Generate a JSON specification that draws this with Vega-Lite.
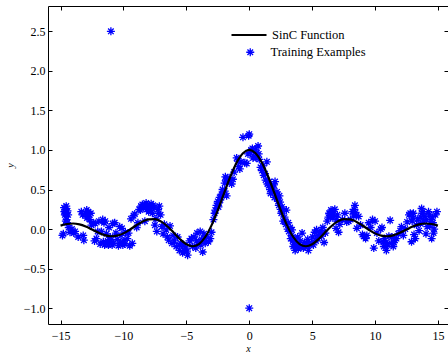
{
  "$schema": "https://vega.github.io/schema/vega-lite/v6.json",
  "width": 400,
  "height": 318,
  "autosize": "none",
  "padding": {"left": 48, "top": 6, "right": 0, "bottom": 31},
  "background": "white",
  "config": {
    "view": {"stroke": null},
    "font": "Liberation Serif",
    "text": {"font": "Liberation Serif"},
    "axis": {
      "grid": false,
      "tickSize": -4,
      "tickColor": "black",
      "tickWidth": 1,
      "domainColor": "black",
      "domainWidth": 1,
      "labelFont": "Liberation Serif",
      "labelFontSize": 12,
      "labelColor": "black",
      "titleFont": "Liberation Serif",
      "titleFontSize": 10,
      "titleFontWeight": "normal",
      "titleFontStyle": "italic",
      "titleColor": "black"
    },
    "legend": {
      "labelFont": "Liberation Serif",
      "labelFontSize": 12.5,
      "labelColor": "black",
      "padding": 0,
      "labelLimit": 300
    }
  },
  "layer": [
    {
      "data": {"values": [
        {"x":-11,"y":2.5},{"x":0,"y":-1},
        {"x":-14.85,"y":-0.08},{"x":-14.78,"y":-0.06},{"x":-14.72,"y":0.27},{"x":-14.7,"y":0.22},{"x":-14.66,"y":0.18},{"x":-14.6,"y":0.25},{"x":-14.55,"y":0.29},{"x":-14.52,"y":0.12},{"x":-14.48,"y":0.08},{"x":-14.4,"y":0.18},{"x":-14.35,"y":0.02},{"x":-14.25,"y":-0.04},{"x":-14.1,"y":0.0},{"x":-13.95,"y":-0.05},{"x":-13.85,"y":-0.03},{"x":-13.6,"y":-0.1},{"x":-13.35,"y":0.22},{"x":-13.25,"y":0.18},{"x":-13.2,"y":-0.08},{"x":-13.15,"y":-0.14},{"x":-13.0,"y":0.2},{"x":-12.92,"y":0.24},{"x":-12.85,"y":0.16},{"x":-12.75,"y":0.19},{"x":-12.68,"y":0.12},{"x":-12.55,"y":0.05},{"x":-12.4,"y":0.08},{"x":-12.3,"y":-0.15},{"x":-12.25,"y":0.07},{"x":-12.15,"y":-0.12},{"x":-12.05,"y":-0.03},
        {"x":-14.62,"y":0.2},{"x":-14.58,"y":0.1},{"x":-14.45,"y":0.23},{"x":-12.9,"y":0.14},{"x":-12.8,"y":0.22},{"x":-12.6,"y":0.2},
        {"x":-11.95,"y":0.1},{"x":-11.85,"y":-0.19},{"x":-11.75,"y":-0.03},{"x":-11.65,"y":0.12},{"x":-11.55,"y":0.08},{"x":-11.5,"y":-0.2},{"x":-11.45,"y":0.1},{"x":-11.35,"y":-0.06},{"x":-11.25,"y":-0.15},{"x":-11.15,"y":0.02},{"x":-11.05,"y":-0.1},{"x":-10.95,"y":-0.17},{"x":-10.85,"y":0.07},{"x":-10.8,"y":-0.18},{"x":-10.7,"y":0.08},{"x":-10.6,"y":-0.05},{"x":-10.5,"y":-0.13},{"x":-10.4,"y":-0.21},{"x":-10.3,"y":0.03},{"x":-10.2,"y":-0.08},{"x":-10.12,"y":0.01},{"x":-10.05,"y":-0.2},{"x":-9.95,"y":-0.15},{"x":-9.85,"y":-0.04},{"x":-9.7,"y":-0.12},{"x":-9.6,"y":-0.05},{"x":-9.5,"y":-0.21},{"x":-9.4,"y":0.13},{"x":-9.3,"y":-0.18},{"x":-9.2,"y":0.17},{"x":-9.1,"y":0.19},
        {"x":-11.6,"y":-0.16},{"x":-11.4,"y":-0.18},{"x":-11.2,"y":-0.2},{"x":-11.0,"y":-0.14},{"x":-10.9,"y":-0.2},{"x":-10.3,"y":-0.18},{"x":-10.1,"y":-0.17},{"x":-9.9,"y":-0.19},
        {"x":-8.95,"y":0.02},{"x":-8.85,"y":0.08},{"x":-8.75,"y":0.25},{"x":-8.6,"y":0.29},{"x":-8.5,"y":0.31},{"x":-8.42,"y":0.27},{"x":-8.3,"y":0.1},{"x":-8.2,"y":0.33},{"x":-8.1,"y":0.3},{"x":-8.0,"y":0.22},{"x":-7.9,"y":0.26},{"x":-7.8,"y":0.32},{"x":-7.7,"y":0.2},{"x":-7.6,"y":0.28},{"x":-7.5,"y":0.05},{"x":-7.42,"y":0.13},{"x":-7.35,"y":-0.03},{"x":-7.25,"y":0.25},{"x":-7.15,"y":0.29},{"x":-7.05,"y":0.18},{"x":-6.95,"y":0.03},{"x":-6.85,"y":-0.06},{"x":-6.75,"y":0.06},{"x":-6.6,"y":-0.01},{"x":-6.5,"y":-0.1},{"x":-6.4,"y":-0.14},{"x":-6.3,"y":0.04},{"x":-6.15,"y":-0.18},{"x":-6.05,"y":-0.08},
        {"x":-8.65,"y":0.24},{"x":-8.35,"y":0.3},{"x":-8.15,"y":0.25},{"x":-7.95,"y":0.3},{"x":-7.85,"y":0.24},{"x":-7.65,"y":0.3},{"x":-7.2,"y":0.2},
        {"x":-5.95,"y":-0.15},{"x":-5.8,"y":-0.22},{"x":-5.7,"y":-0.1},{"x":-5.55,"y":-0.27},{"x":-5.45,"y":-0.18},{"x":-5.3,"y":-0.3},{"x":-5.2,"y":-0.2},{"x":-5.05,"y":-0.24},{"x":-4.9,"y":-0.33},{"x":-4.75,"y":-0.15},{"x":-4.6,"y":-0.12},{"x":-4.5,"y":-0.22},{"x":-4.4,"y":-0.1},{"x":-4.25,"y":-0.24},{"x":-4.15,"y":-0.05},{"x":-4.0,"y":-0.17},{"x":-3.9,"y":-0.03},{"x":-3.8,"y":-0.13},{"x":-3.7,"y":-0.29},{"x":-3.6,"y":-0.06},{"x":-3.5,"y":-0.18},{"x":-3.4,"y":-0.1},{"x":-3.25,"y":-0.16},{"x":-3.1,"y":-0.12},{"x":-3.0,"y":-0.04},
        {"x":-5.5,"y":-0.2},{"x":-5.15,"y":-0.27},{"x":-4.95,"y":-0.28},{"x":-4.2,"y":-0.15},{"x":-3.85,"y":-0.2},{"x":-3.55,"y":-0.12},
        {"x":-2.85,"y":0.12},{"x":-2.75,"y":0.2},{"x":-2.7,"y":0.24},{"x":-2.6,"y":0.3},{"x":-2.5,"y":0.35},{"x":-2.45,"y":0.28},{"x":-2.35,"y":0.4},{"x":-2.3,"y":0.37},{"x":-2.2,"y":0.44},{"x":-2.12,"y":0.5},{"x":-2.05,"y":0.46},{"x":-1.95,"y":0.48},{"x":-1.9,"y":0.66},{"x":-1.8,"y":0.42},{"x":-1.7,"y":0.6},{"x":-1.55,"y":0.61},{"x":-1.4,"y":0.57},{"x":-1.3,"y":0.63},{"x":-1.0,"y":0.9},{"x":-0.85,"y":0.79},{"x":-0.75,"y":0.76},{"x":-0.5,"y":1.16},{"x":-0.35,"y":0.84},{"x":-0.2,"y":0.83},{"x":-0.1,"y":0.95},
        {"x":-2.4,"y":0.33},{"x":-2.25,"y":0.4},{"x":-1.95,"y":0.58},{"x":-1.85,"y":0.62},{"x":-1.6,"y":0.65},{"x":-1.2,"y":0.72},{"x":-0.9,"y":0.86},{"x":-0.65,"y":0.85},
        {"x":0.0,"y":1.2},{"x":-0.05,"y":1.18},{"x":0.1,"y":0.97},{"x":0.25,"y":1.02},{"x":0.35,"y":0.92},{"x":0.5,"y":1.01},{"x":0.6,"y":0.96},{"x":0.7,"y":1.05},{"x":0.8,"y":0.88},{"x":0.9,"y":0.78},{"x":1.0,"y":0.74},{"x":1.15,"y":0.68},{"x":1.25,"y":0.7},{"x":1.4,"y":0.85},{"x":1.45,"y":0.57},{"x":1.55,"y":0.55},{"x":1.65,"y":0.5},{"x":1.75,"y":0.54},{"x":1.85,"y":0.48},{"x":1.95,"y":0.56},{"x":2.05,"y":0.6},{"x":2.1,"y":0.43},{"x":2.2,"y":0.47},{"x":2.25,"y":0.38},{"x":2.35,"y":0.3},{"x":2.4,"y":0.42},{"x":2.45,"y":0.34},{"x":2.5,"y":0.25},{"x":2.55,"y":0.2},{"x":2.65,"y":0.22},{"x":2.7,"y":0.1},{"x":2.8,"y":0.15},{"x":2.9,"y":0.06},{"x":2.95,"y":0.24},
        {"x":0.15,"y":1.0},{"x":0.3,"y":0.9},{"x":0.55,"y":0.9},{"x":0.75,"y":0.95},{"x":1.1,"y":0.8},{"x":1.3,"y":0.62},{"x":1.6,"y":0.6},{"x":1.7,"y":0.45},{"x":1.9,"y":0.52},{"x":2.0,"y":0.4},{"x":2.3,"y":0.35},{"x":2.6,"y":0.28},{"x":2.85,"y":0.1},
        {"x":3.05,"y":0.0},{"x":3.15,"y":-0.03},{"x":3.25,"y":0.02},{"x":3.35,"y":-0.08},{"x":3.4,"y":-0.01},{"x":3.5,"y":-0.22},{"x":3.55,"y":-0.12},{"x":3.6,"y":-0.16},{"x":3.65,"y":-0.27},{"x":3.75,"y":-0.19},{"x":3.85,"y":-0.1},{"x":3.95,"y":-0.2},{"x":4.05,"y":-0.15},{"x":4.2,"y":-0.05},{"x":4.3,"y":-0.24},{"x":4.45,"y":-0.22},{"x":4.55,"y":-0.18},{"x":4.65,"y":-0.13},{"x":4.8,"y":-0.2},{"x":4.95,"y":-0.17},{"x":5.05,"y":-0.1},{"x":5.2,"y":-0.04},{"x":5.35,"y":-0.01},{"x":5.45,"y":-0.12},{"x":5.6,"y":-0.06},{"x":5.75,"y":-0.09},{"x":5.85,"y":0.02},{"x":5.95,"y":-0.17},{"x":6.05,"y":-0.05},
        {"x":3.1,"y":0.08},{"x":3.3,"y":-0.12},{"x":3.45,"y":-0.15},{"x":3.7,"y":-0.22},{"x":3.9,"y":-0.25},{"x":4.1,"y":-0.23},{"x":4.4,"y":-0.17},{"x":4.7,"y":-0.27},{"x":5.1,"y":-0.2},{"x":5.3,"y":-0.15},{"x":5.5,"y":-0.08},{"x":5.7,"y":-0.02},
        {"x":6.2,"y":0.1},{"x":6.35,"y":0.2},{"x":6.45,"y":0.17},{"x":6.55,"y":0.22},{"x":6.65,"y":0.14},{"x":6.8,"y":0.25},{"x":6.9,"y":0.01},{"x":7.0,"y":0.18},{"x":7.1,"y":-0.04},{"x":7.2,"y":0.06},{"x":7.4,"y":0.12},{"x":7.6,"y":0.2},{"x":7.75,"y":0.09},{"x":7.9,"y":0.1},{"x":8.05,"y":0.12},{"x":8.2,"y":0.22},{"x":8.35,"y":0.25},{"x":8.45,"y":0.21},{"x":8.55,"y":0.01},{"x":8.7,"y":0.16},{"x":8.85,"y":0.05},{"x":9.0,"y":-0.07},{"x":9.1,"y":-0.09},
        {"x":6.3,"y":0.15},{"x":6.5,"y":0.24},{"x":6.7,"y":0.19},{"x":6.95,"y":0.12},{"x":8.3,"y":0.18},{"x":8.5,"y":0.17},{"x":8.4,"y":0.3},
        {"x":9.25,"y":-0.12},{"x":9.35,"y":-0.08},{"x":9.5,"y":0.08},{"x":9.65,"y":0.02},{"x":9.8,"y":0.12},{"x":9.9,"y":-0.24},{"x":10.0,"y":0.1},{"x":10.15,"y":-0.05},{"x":10.3,"y":-0.15},{"x":10.45,"y":0.0},{"x":10.55,"y":0.02},{"x":10.65,"y":-0.16},{"x":10.75,"y":-0.12},{"x":10.9,"y":-0.27},{"x":11.0,"y":-0.2},{"x":11.1,"y":-0.09},{"x":11.2,"y":0.11},{"x":11.3,"y":-0.18},{"x":11.45,"y":-0.22},{"x":11.55,"y":-0.14},{"x":11.7,"y":-0.12},{"x":11.85,"y":-0.06},{"x":12.0,"y":-0.02},
        {"x":10.7,"y":-0.22},{"x":10.85,"y":-0.17},{"x":11.35,"y":-0.1},{"x":11.5,"y":-0.17},
        {"x":12.1,"y":0.03},{"x":12.25,"y":-0.08},{"x":12.4,"y":0.0},{"x":12.55,"y":0.09},{"x":12.7,"y":0.18},{"x":12.8,"y":0.2},{"x":12.9,"y":-0.16},{"x":13.0,"y":0.14},{"x":13.1,"y":-0.07},{"x":13.2,"y":-0.12},{"x":13.3,"y":0.05},{"x":13.4,"y":0.13},{"x":13.5,"y":-0.02},{"x":13.6,"y":0.07},{"x":13.7,"y":0.26},{"x":13.75,"y":0.2},{"x":13.85,"y":0.1},{"x":13.95,"y":0.16},{"x":14.05,"y":-0.06},{"x":14.15,"y":0.03},{"x":14.25,"y":0.22},{"x":14.35,"y":0.04},{"x":14.45,"y":0.12},{"x":14.5,"y":-0.12},{"x":14.6,"y":0.08},{"x":14.7,"y":0.0},{"x":14.8,"y":0.18},{"x":14.92,"y":0.22},
        {"x":13.65,"y":0.15},{"x":13.8,"y":0.22},{"x":14.1,"y":0.12},{"x":14.3,"y":0.18},{"x":14.55,"y":0.15},{"x":14.65,"y":-0.05},{"x":13.05,"y":0.2},{"x":12.95,"y":0.1}
      ]},
      "mark": {"type": "point", "filled": false, "color": "blue", "strokeWidth": 1.3, "size": 64, "opacity": 1},
      "encoding": {
        "x": {"field": "x", "type": "quantitative",
              "scale": {"domain": [-16, 15.8], "nice": false, "zero": false},
              "axis": {"orient": "top", "labels": false, "title": null, "values": [-15,-10,-5,0,5,10,15], "domain": true}},
        "y": {"field": "y", "type": "quantitative",
              "scale": {"domain": [-1.2, 2.82], "nice": false, "zero": false},
              "axis": {"orient": "right", "labels": false, "title": null, "values": [-1,-0.5,0,0.5,1,1.5,2,2.5], "domain": false}},
        "shape": {"datum": "Training Examples",
                  "scale": {"range": ["M-1,0L1,0M0,-1L0,1M-0.7,-0.7L0.7,0.7M-0.7,0.7L0.7,-0.7"]},
                  "legend": {"orient": "none", "legendX": 196, "legendY": 40, "title": null, "symbolSize": 64, "symbolStrokeColor": "blue", "symbolStrokeWidth": 1.3, "labelOffset": 14, "labelFont": "Liberation Serif"}}
      }
    },
    {
      "data": {"values": [
        {"x":-15,"y":0.043353},{"x":-14.5,"y":0.064476},{"x":-14,"y":0.070758},{"x":-13.5,"y":0.05954},{"x":-13,"y":0.032321},{"x":-12.5,"y":-0.005306},{"x":-12,"y":-0.044714},{"x":-11.5,"y":-0.076145},{"x":-11,"y":-0.090908},{"x":-10.5,"y":-0.083781},{"x":-10,"y":-0.054402},{"x":-9.5,"y":-0.007911},{"x":-9,"y":0.045791},{"x":-8.5,"y":0.09394},{"x":-8,"y":0.12367},{"x":-7.5,"y":0.125067},{"x":-7,"y":0.093855},{"x":-6.5,"y":0.033095},{"x":-6,"y":-0.046569},{"x":-5.5,"y":-0.12828},{"x":-5,"y":-0.191785},{"x":-4.5,"y":-0.217229},{"x":-4,"y":-0.189201},{"x":-3.5,"y":-0.100224},{"x":-3,"y":0.04704},{"x":-2.5,"y":0.239389},{"x":-2,"y":0.454649},{"x":-1.5,"y":0.664997},{"x":-1,"y":0.841471},{"x":-0.5,"y":0.958851},{"x":0,"y":1},
        {"x":0.5,"y":0.958851},{"x":1,"y":0.841471},{"x":1.5,"y":0.664997},{"x":2,"y":0.454649},{"x":2.5,"y":0.239389},{"x":3,"y":0.04704},{"x":3.5,"y":-0.100224},{"x":4,"y":-0.189201},{"x":4.5,"y":-0.217229},{"x":5,"y":-0.191785},{"x":5.5,"y":-0.12828},{"x":6,"y":-0.046569},{"x":6.5,"y":0.033095},{"x":7,"y":0.093855},{"x":7.5,"y":0.125067},{"x":8,"y":0.12367},{"x":8.5,"y":0.09394},{"x":9,"y":0.045791},{"x":9.5,"y":-0.007911},{"x":10,"y":-0.054402},{"x":10.5,"y":-0.083781},{"x":11,"y":-0.090908},{"x":11.5,"y":-0.076145},{"x":12,"y":-0.044714},{"x":12.5,"y":-0.005306},{"x":13,"y":0.032321},{"x":13.5,"y":0.05954},{"x":14,"y":0.070758},{"x":14.5,"y":0.064476},{"x":15,"y":0.043353}
      ]},
      "mark": {"type": "line", "strokeWidth": 2.2, "interpolate": "monotone"},
      "encoding": {
        "x": {"field": "x", "type": "quantitative",
              "axis": {"orient": "bottom", "values": [-15,-10,-5,0,5,10,15], "title": "x", "labelPadding": 10, "titlePadding": 2, "labelFont": "Liberation Serif", "titleFont": "Liberation Serif"}},
        "y": {"field": "y", "type": "quantitative",
              "axis": {"orient": "left", "values": [-1,-0.5,0,0.5,1,1.5,2,2.5], "title": "y", "labelPadding": 7, "titlePadding": 8, "labelFont": "Liberation Serif", "titleFont": "Liberation Serif"}},
        "color": {"datum": "SinC Function",
                  "scale": {"range": ["black"]},
                  "legend": {"orient": "none", "legendX": 182, "legendY": 10, "title": null, "symbolType": "stroke", "symbolSize": 1225, "symbolStrokeWidth": 2.2, "labelOffset": 4, "labelFont": "Liberation Serif"}}
      }
    }
  ],
  "resolve": {"axis": {"x": "independent", "y": "independent"}}
}
